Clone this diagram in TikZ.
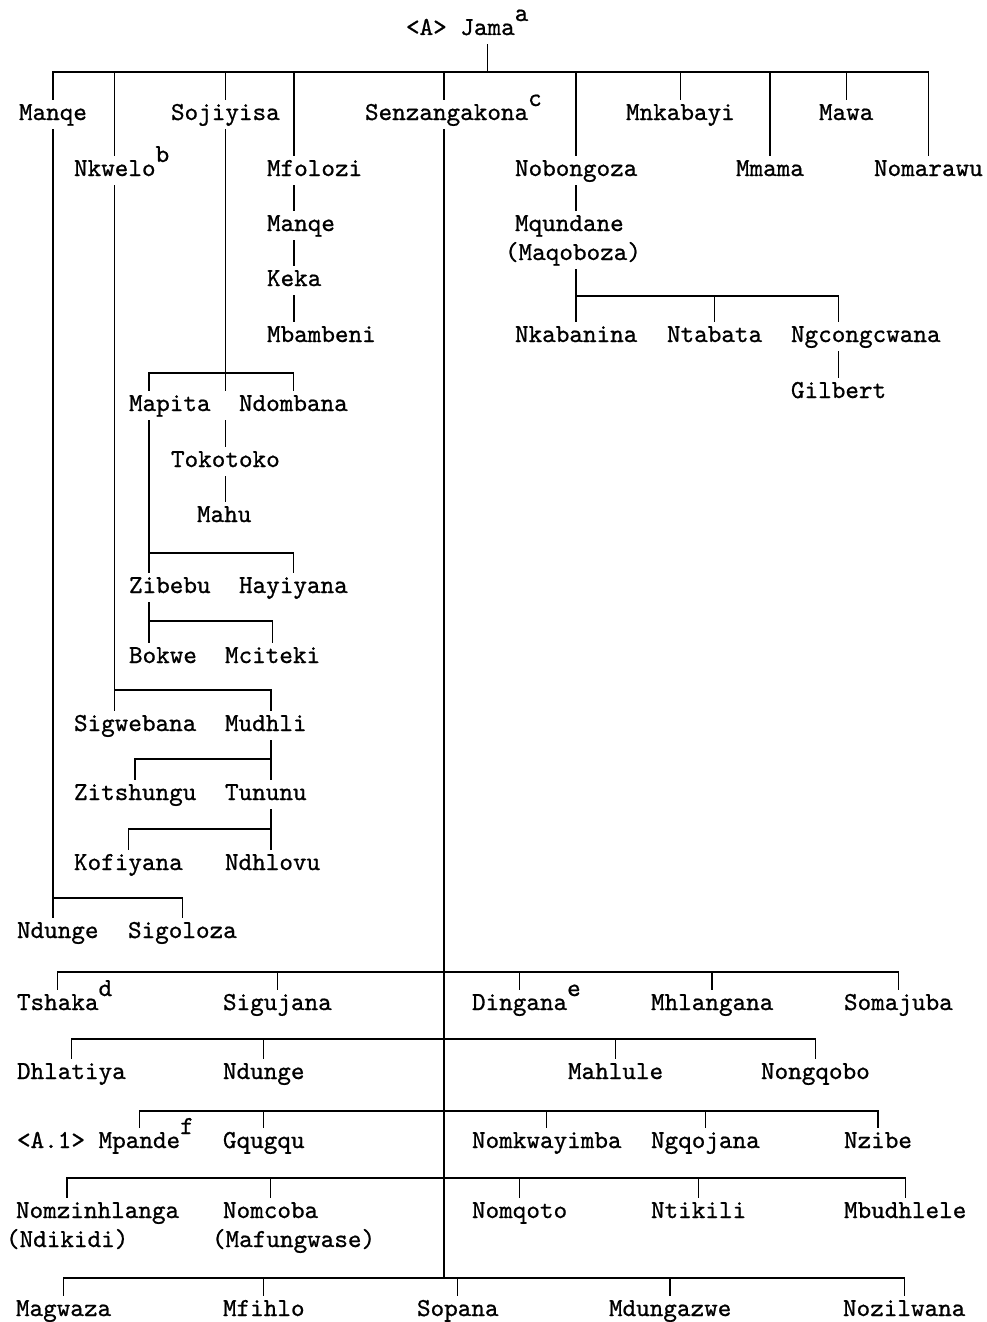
\documentclass[tikz,border=0pt]{standalone}
\usepackage{fontspec}
\newfontfamily\typewriter[FakeBold=0.8]{lmmono10-regular.otf}
% footnote letter set above the line, taking no room
\newcommand\fnmark[1]{\rlap{\smash{\raisebox{14pt}{#1}}}}
\begin{document}
\begin{tikzpicture}[x=1pt,y=-1pt,
  person/.style={anchor=base west, inner sep=0pt, outer xsep=0pt, outer ysep=5pt,
    text height=16pt, text depth=5pt,
    font=\fontsize{25.9pt}{30pt}\selectfont\typewriter\bfseries},
  link/.style={line width=1.4pt, line cap=rect}]
\useasboundingbox (0,0) rectangle (986,1322);

% ---------- names ----------
\node[person] (jtag) at (406,35) {<A>};
\node[person] (jama) at (460.4,35) {Jama\fnmark{a}};

\node[person] (manqeA) at (19,120) {Manqe};
\node[person] (sojiyisa) at (171,120) {Sojiyisa};
\node[person] (senz) at (365,120) {Senzangakona\fnmark{c}};
\node[person] (mnkabayi) at (626,120) {Mnkabayi};
\node[person] (mawa) at (819,120) {Mawa};

\node[person] (nkwelo) at (74,176) {Nkwelo\fnmark{b}};
\node[person] (mfolozi) at (267,176) {Mfolozi};
\node[person] (nobongoza) at (515,176) {Nobongoza};
\node[person] (mmama) at (736,176) {Mmama};
\node[person] (nomarawu) at (874,176) {Nomarawu};

\node[person] (manqeB) at (267,231) {Manqe};
\node[person] (keka) at (267,286) {Keka};
\node[person] (mbambeni) at (267,342) {Mbambeni};

\node[person] (mqundane) at (515,231) {Mqundane};
\node[person] (maqoboza) at (505,260) {(Maqoboza)};
\node[person] (nkabanina) at (515,342) {Nkabanina};
\node[person] (ntabata) at (667,342) {Ntabata};
\node[person] (ngcongcwana) at (791,342) {Ngcongcwana};
\node[person] (gilbert) at (791,398) {Gilbert};

\node[person] (mapita) at (129,411) {Mapita};
\node[person] (ndombana) at (239,411) {Ndombana};
\node[person] (tokotoko) at (171,467) {Tokotoko};
\node[person] (mahu) at (197,522) {Mahu};
\node[person] (zibebu) at (129,593) {Zibebu};
\node[person] (hayiyana) at (239,593) {Hayiyana};
\node[person] (bokwe) at (129,663) {Bokwe};
\node[person] (mciteki) at (225,663) {Mciteki};
\node[person] (sigwebana) at (74,731) {Sigwebana};
\node[person] (mudhli) at (225,731) {Mudhli};
\node[person] (zitshungu) at (74,800) {Zitshungu};
\node[person] (tununu) at (225,800) {Tununu};
\node[person] (kofiyana) at (74,870) {Kofiyana};
\node[person] (ndhlovu) at (225,870) {Ndhlovu};
\node[person] (ndunge) at (17,938) {Ndunge};
\node[person] (sigoloza) at (128,938) {Sigoloza};

\node[person] (tshaka) at (17,1010) {Tshaka\fnmark{d}};
\node[person] (sigujana) at (223,1010) {Sigujana};
\node[person] (dingana) at (472,1010) {Dingana\fnmark{e}};
\node[person] (mhlangana) at (651,1010) {Mhlangana};
\node[person] (somajuba) at (844,1010) {Somajuba};

\node[person] (dhlatiya) at (17,1079) {Dhlatiya};
\node[person] (ndungeB) at (223,1079) {Ndunge};
\node[person] (mahlule) at (568,1079) {Mahlule};
\node[person] (nongqobo) at (761,1079) {Nongqobo};

\node[person] (atag) at (17,1148) {<A.1>};
\node[person] (mpande) at (98.6,1148) {Mpande\fnmark{f}};
\node[person] (gqugqu) at (223,1148) {Gqugqu};
\node[person] (nomkwayimba) at (472,1148) {Nomkwayimba};
\node[person] (ngqojana) at (651,1148) {Ngqojana};
\node[person] (nzibe) at (844,1148) {Nzibe};

\node[person] (nomzinhlanga) at (16,1218) {Nomzinhlanga};
\node[person] (ndikidi) at (6,1247) {(Ndikidi)};
\node[person] (nomcoba) at (223,1218) {Nomcoba};
\node[person] (mafungwase) at (212,1247) {(Mafungwase)};
\node[person] (nomqoto) at (472,1218) {Nomqoto};
\node[person] (ntikili) at (651,1218) {Ntikili};
\node[person] (mbudhlele) at (844,1218) {Mbudhlele};

\node[person] (magwaza) at (16,1316) {Magwaza};
\node[person] (mfihlo) at (223,1316) {Mfihlo};
\node[person] (sopana) at (417,1316) {Sopana};
\node[person] (mdungazwe) at (609,1316) {Mdungazwe};
\node[person] (nozilwana) at (843,1316) {Nozilwana};

% ---------- fork levels and line columns ----------
\coordinate (f0) at (0,72);
\coordinate (fQ) at (0,296);
\coordinate (fS) at (0,373);
\coordinate (fMp) at (0,553);
\coordinate (fZb) at (0,621);
\coordinate (fN) at (0,690);
\coordinate (fZ) at (0,759);
\coordinate (fK) at (0,829);
\coordinate (fM) at (0,898);
\coordinate (fA) at (0,972);
\coordinate (fB) at (0,1039);
\coordinate (fC) at (0,1111);
\coordinate (fD) at (0,1178);
\coordinate (fE) at (0,1278);
\coordinate (xmap) at (149,0);
\coordinate (xmud) at (271,0);
\coordinate (xsenz) at (444,0);

% ---------- Jama's children ----------
\draw[link] (jama.south) -- (jama |- f0);
\draw[link] (manqeA |- f0) -- (nomarawu |- f0);
\foreach \n in {manqeA,nkwelo,sojiyisa,nobongoza,mnkabayi,mmama,mawa,nomarawu}
  \draw[link] (\n |- f0) -- (\n.north);
\draw[link] (xsenz |- f0) -- (xsenz |- senz.north);
\draw[link] (keka |- f0) -- (keka |- mfolozi.north);

% Mfolozi's line
\draw[link] (keka |- mfolozi.south) -- (keka |- manqeB.north);
\draw[link] (keka |- manqeB.south) -- (keka.north);
\draw[link] (keka.south) -- (keka |- mbambeni.north);

% Manqe's line
\draw[link] (manqeA.south) -- (manqeA |- ndunge.north);
\draw[link] (manqeA |- fM) -| (sigoloza.north);

% Nkwelo's line
\draw[link] (nkwelo.south) -- (nkwelo |- sigwebana.north);
\draw[link] (nkwelo |- fN) -| (xmud |- mudhli.north);
\draw[link] (xmud |- mudhli.south) -- (xmud |- tununu.north);
\draw[link] (xmud |- fZ) -| (zitshungu.north);
\draw[link] (xmud |- tununu.south) -- (xmud |- ndhlovu.north);
\draw[link] (xmud |- fK) -| (kofiyana.north);

% Sojiyisa's line
\draw[link] (sojiyisa.south) -- (sojiyisa |- mapita.north);
\draw[link] (sojiyisa |- mapita.south) -- (sojiyisa |- tokotoko.north);
\draw[link] (tokotoko.south) -- (tokotoko |- mahu.north);
\draw[link] (xmap |- mapita.north) -- (xmap |- fS) -- (ndombana |- fS) -- (ndombana.north);
\draw[link] (xmap |- mapita.south) -- (xmap |- zibebu.north);
\draw[link] (xmap |- fMp) -| (hayiyana.north);
\draw[link] (xmap |- zibebu.south) -- (xmap |- bokwe.north);
\draw[link] (xmap |- fZb) -| (mciteki.north);

% Nobongoza's line
\draw[link] (nobongoza.south) -- (nobongoza |- mqundane.north);
\draw[link] (nobongoza |- maqoboza.south) -- (nobongoza |- nkabanina.north);
\draw[link] (nobongoza |- fQ) -| (gilbert |- ngcongcwana.north);
\draw[link] (ntabata |- fQ) -- (ntabata.north);
\draw[link] (gilbert |- ngcongcwana.south) -- (gilbert.north);

% Senzangakona's line and houses
\draw[link] (xsenz |- senz.south) -- (xsenz |- fE);

\draw[link] (tshaka.north) -- (tshaka |- fA) -- (somajuba |- fA) -- (somajuba.north);
\foreach \n in {sigujana,dingana,mhlangana}
  \draw[link] (\n |- fA) -- (\n.north);

\draw[link] (dhlatiya.north) -- (dhlatiya |- fB) -- (nongqobo |- fB) -- (nongqobo.north);
\foreach \n in {ndungeB,mahlule}
  \draw[link] (\n |- fB) -- (\n.north);

\draw[link] (mpande.north) -- (mpande |- fC) -- (nzibe |- fC) -- (nzibe.north);
\foreach \n in {gqugqu,nomkwayimba,ngqojana}
  \draw[link] (\n |- fC) -- (\n.north);

\draw[link] (ndikidi |- nomzinhlanga.north) -- (ndikidi |- fD) -- (mbudhlele |- fD) -- (mbudhlele.north);
\foreach \n in {nomcoba,nomqoto,ntikili}
  \draw[link] (\n |- fD) -- (\n.north);

\draw[link] (magwaza.north) -- (magwaza |- fE) -- (nozilwana |- fE) -- (nozilwana.north);
\foreach \n in {mfihlo,sopana,mdungazwe}
  \draw[link] (\n |- fE) -- (\n.north);
\end{tikzpicture}
\end{document}
